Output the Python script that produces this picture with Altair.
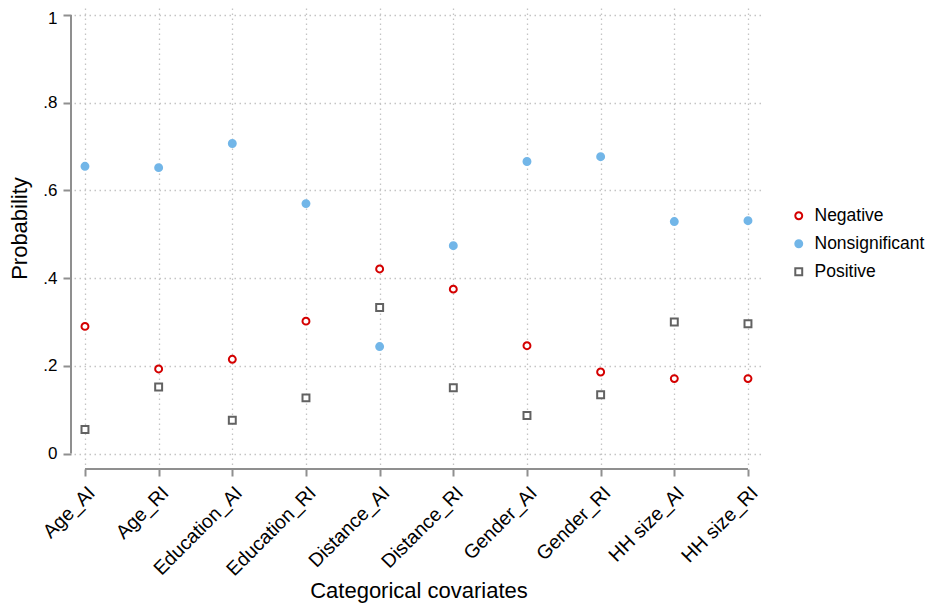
import altair as alt
import pandas as pd

categories = ["Age_AI", "Age_RI", "Education_AI", "Education_RI", "Distance_AI",
              "Distance_RI", "Gender_AI", "Gender_RI", "HH size_AI", "HH size_RI"]
negative = [0.290, 0.193, 0.215, 0.302, 0.421, 0.375, 0.246, 0.186, 0.171, 0.171]
nonsignificant = [0.655, 0.652, 0.707, 0.570, 0.244, 0.474, 0.666, 0.677, 0.529, 0.531]
positive = [0.055, 0.152, 0.076, 0.127, 0.333, 0.150, 0.087, 0.134, 0.300, 0.296]
series = ["Negative", "Nonsignificant", "Positive"]
y_ticks = [0, 0.2, 0.4, 0.6, 0.8, 1]

rows = []
for name, vals in zip(series, [negative, nonsignificant, positive]):
    for i, (c, v) in enumerate(zip(categories, vals)):
        rows.append({"idx": i, "cov": c, "prob": v, "type": name})
df = pd.DataFrame(rows)

W, H = 689, 457
FONT = "Liberation Sans"
AX = "#8f8f8f"
GRID = "#c4c4c4"

x_label_expr = "[" + ",".join("'" + c + "'" for c in categories) + "][datum.value]"
xscale = alt.Scale(domain=[-0.149, len(categories) - 1 + 0.204], nice=False, zero=False)
yscale = alt.Scale(domain=[-0.026, 1.016], nice=False, zero=False)

legend_kw = dict(title=None, orient="none", legendX=716, legendY=199,
                 labelFont=FONT, labelFontSize=17.5, labelColor="black",
                 rowPadding=9, labelOffset=7, symbolStrokeWidth=2, symbolSize=48)

points = alt.Chart(df).mark_point(size=48, strokeWidth=2, opacity=1).encode(
    x=alt.X("idx:Q", scale=xscale,
            axis=alt.Axis(title="Categorical covariates", values=list(range(len(categories))),
                          labelExpr=x_label_expr, labelOverlap=False, labelFlush=False,
                          labelAngle=315, labelFontSize=19.5, labelAlign="right",
                          labelBaseline="top",
                          labelFont=FONT, labelColor="black", titleFont=FONT,
                          titleFontSize=22, titleFontWeight="normal", titleColor="black",
                          domain=False, tickColor=AX, tickWidth=2, tickSize=7, offset=4,
                          labelPadding=7, grid=True, gridColor=GRID, gridDash=[1.5, 3.5],
                          gridWidth=1.3, titleY=128, titleBaseline="alphabetic")),
    y=alt.Y("prob:Q", scale=yscale,
            axis=alt.Axis(title="Probability", values=y_ticks, labelFontSize=17,
                          labelFont=FONT, labelColor="black", titleFont=FONT,
                          titleFontSize=22, titleFontWeight="normal", titleColor="black",
                          labelExpr="datum.value == 0 ? '0' : datum.value == 1 ? '1' : '.' + format(datum.value * 10, 'd')",
                          labelOffset={"condition": {"test": "datum.value == 1", "value": 3}, "value": 0},
                          domain=False, tickColor=AX, tickWidth=2, tickSize=8, offset=3,
                          labelPadding=6, grid=True, gridColor=GRID, gridDash=[1.5, 3.5],
                          gridWidth=1.3, titleX=-45, titleY=220, titleAngle=270,
                          titleBaseline="alphabetic", titleAlign="center")),
    stroke=alt.Stroke("type:N", scale=alt.Scale(domain=series, range=["#d40000", "#72b6e8", "#626262"]),
                      legend=alt.Legend(**legend_kw)),
    fill=alt.Fill("type:N", scale=alt.Scale(domain=series, range=["white", "#72b6e8", "white"]),
                  legend=alt.Legend(**legend_kw)),
    shape=alt.Shape("type:N", scale=alt.Scale(domain=series, range=["circle", "circle", "square"]),
                    legend=alt.Legend(**legend_kw)),
)

yline = alt.Chart(pd.DataFrame({"a": [0]})).mark_rule(color=AX, strokeWidth=2).encode(
    x=alt.value(-3), y=alt.datum(y_ticks[0]), y2=alt.datum(y_ticks[-1]))
xline = alt.Chart(pd.DataFrame({"a": [0]})).mark_rule(color=AX, strokeWidth=2).encode(
    y=alt.value(H + 4), x=alt.datum(0), x2=alt.datum(len(categories) - 1))

chart = alt.layer(yline, xline, points).properties(
    width=W, height=H,
    autosize=alt.AutoSizeParams(type="none"),
    padding={"left": 66, "top": 0, "right": 164, "bottom": 138},
    background="white",
).configure_view(stroke=None)

chart.save("out.html", embed_options={"renderer": "svg", "actions": False})
